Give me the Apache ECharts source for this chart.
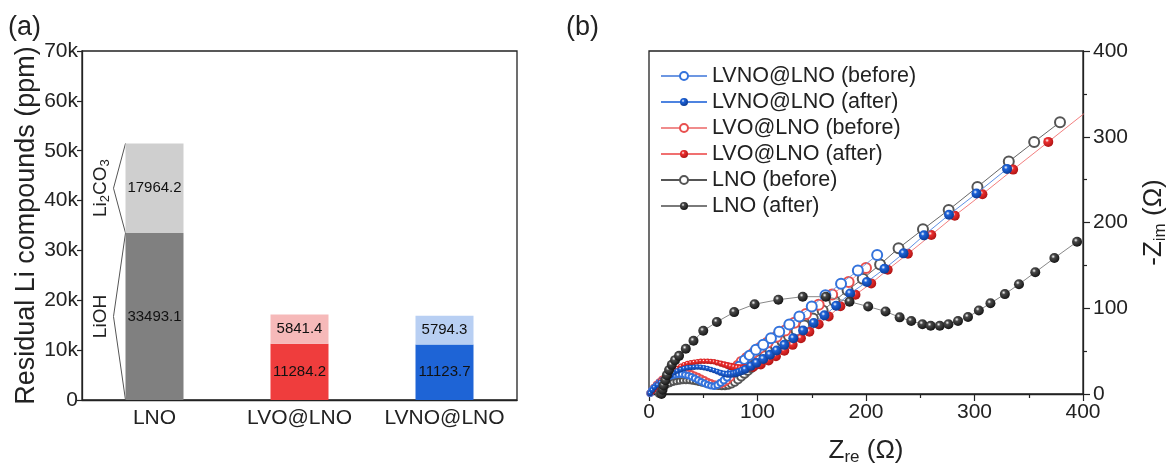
<!DOCTYPE html>
<html>
<head>
<meta charset="utf-8">
<script src="https://cdn.jsdelivr.net/npm/echarts@6/dist/echarts.min.js"></script>
<style>
  html, body { margin: 0; padding: 0; background: #fff; }
  #main { width: 1171px; height: 471px; }
</style>
</head>
<body>
<div id="main"></div>
<script>
// ---- (a) residual Li compounds ----
const samples = ['LNO', 'LVO@LNO', 'LVNO@LNO'];
const liohValues = [33493.1, 11284.2, 11123.7];
const li2co3Values = [17964.2, 5841.4, 5794.3];
const residualTickLabels = ['0', '10k', '20k', '30k', '40k', '50k', '60k', '70k'];

// ---- (b) Nyquist plots [Zre, -Zim] ----
const lvnoBefore = [[1,1],[2.5,4],[4.5,7],[7,10],[9.5,13],[12,15.5],[15,18],[18,20],[21,21.5],[24,22.5],[27,23],[30,23],[33,22.5],[36,21.5],[39,20],[42,18.3],[45,16.3],[48,14.3],[51,12.4],[54,10.8],[57,9.5],[60,9],[63,10.5],[66,13],[69,16],[72,19.5],[75.5,25],[79,29],[83,33],[87.8,40],[92.4,45],[98.5,51.6],[105.3,57.3],[112.4,65],[120,72.6],[129.3,81],[138.6,90.5],[150,102],[162.6,115.3],[177,128.7],[192.5,144],[210.3,162]];
const lvnoAfter = [[1,1],[3,4.5],[5,7.6],[8,10.5],[10.8,13.4],[14,16.3],[17,19],[20,22],[23,24.8],[26,26.8],[29.3,28.6],[32.4,29.7],[35.4,30.5],[38.5,31],[41.6,31.3],[44.7,31.4],[47.7,31.3],[50.8,30.6],[53.9,29.8],[57,28.7],[60,27.5],[63,26.1],[66,24.8],[69.2,23.7],[72.3,22.9],[75,23],[77.9,23.6],[80.5,24.5],[83,25.6],[85.8,27],[88.7,28.7],[93.9,32.5],[99.1,36.3],[105.3,40.8],[111.5,45.8],[117.6,50.8],[124.7,57.3],[133,65],[142,74],[151.8,82.9],[161.7,91.7],[172.5,103],[185.4,117.3],[200.8,130.7],[217,146],[234.6,164],[253.4,185],[276.5,209],[301.8,233.8],[330,262.5]];
const lvoBefore = [[1,1],[2.5,4],[4.5,7.5],[7,11],[9.5,14],[12,17],[15,19.5],[18,21.5],[21,23],[24,24.2],[27,25],[30,25.3],[33,25.2],[36,24.6],[39,23.5],[42,22],[45,20.3],[48,18.4],[51,16.5],[54,14.6],[57,13],[60,11.8],[63,11.2],[66,11.5],[69,13],[72,15.5],[75,19.5],[77.5,25],[79.4,30],[81.5,34],[84.7,38.2],[89.9,42.8],[96,47.8],[102.2,53.5],[109.3,60],[117.6,66.8],[125.6,74.1],[134,83],[144.7,93.2],[156.4,104],[168.8,116],[184,130.7],[200,147]];
const lvoAfter = [[1,1],[3,2.5],[4.5,5],[6.2,7.6],[8.5,11.5],[10.8,15.3],[13.8,18.2],[17,21],[20,24],[23,26.7],[26,29.7],[29.3,32.5],[32.4,34.2],[35.4,35.5],[38.5,36.4],[41.6,37],[44.7,37.6],[47.7,38.2],[50.8,38.2],[54,38.2],[57,37.9],[60,37.5],[63,36.5],[66.2,35.5],[69.3,34.3],[72.3,33.2],[75.4,32.2],[78.5,31.3],[81.5,30.5],[84.5,30],[87,29.6],[89.3,29.5],[96,31.3],[103,34.4],[110.2,39],[117,44],[124.7,50.4],[132.4,57.3],[140,65],[147.8,72.6],[156.4,81.4],[165.6,90.5],[176.4,102.4],[190.3,115.8],[204.8,129],[220,145],[238.6,163.5],[260.2,185.5],[281.8,208],[307.3,233],[335.6,261.7],[368,294],[402,328]];
const lnoBefore = [[9,0],[10,3],[11.5,6],[13.5,8.5],[16,10.5],[19,12.3],[22,13.6],[25,14.6],[28,15.3],[31,15.7],[34,15.8],[37,15.6],[40,15.2],[43,14.5],[46,13.7],[49,12.8],[52,11.9],[55,11],[58,10.2],[61,9.6],[64,9.2],[67,9.1],[70,9.4],[73,10.2],[76,11.8],[79,14],[82,17],[85,20.5],[88,24],[91,27.5],[94,31],[98,35],[102,39.5],[107,44.5],[112,50],[117,55.5],[123,61.5],[129,67.5],[136,74],[143,80],[151,88],[160,97.4],[171,108.5],[183,121],[197,134.4],[213,151],[230,170],[252.5,192],[276.2,214.7],[302.7,241.5],[331.6,271],[355,294],[378.8,317]];
const lnoAfter = [[11.5,0],[12.5,5],[13.5,10],[15,16],[16.5,22],[18.5,28],[21,34],[24,39.5],[27.7,44.5],[33.9,52.7],[41,62],[50,73.7],[62.5,84],[78.5,95.5],[97.3,104.7],[119.2,110],[141.7,113.5],[163,113.5],[184.8,107.7],[202,102],[218,96.3],[231,89.4],[241.7,85.2],[252,81.4],[259.6,79.5],[268,79.5],[276,81.4],[284.8,85.2],[294,89.8],[304,97.4],[314.7,105.8],[328,116.5],[341,128],[356,142],[373.6,158.5],[394.5,177.6]];

const FONT = '"Liberation Sans", Arial, sans-serif';
const INK = '#222';

const liohColors = ['#808080', '#ef3d3d', '#1e64d6'];
const li2co3Colors = ['#cfcfcf', '#f6b9b9', '#b8cff3'];

function sphere(base, dark) {
  return {
    type: 'radial', x: 0.38, y: 0.35, r: 0.65,
    colorStops: [
      { offset: 0, color: '#ffffff' },
      { offset: 0.3, color: base },
      { offset: 1, color: dark }
    ]
  };
}
function openSize(v) {
  return v[0] < 60 ? 5.5 : Math.min(10, 5.5 + (v[0] - 60) / 9);
}
function filledSize(v) {
  return v[0] < 60 ? 5.5 : Math.min(10, 5.5 + (v[0] - 60) / 9);
}

function nyquist(name, data, opts) {
  return {
    name: name,
    type: 'line',
    xAxisIndex: 1,
    yAxisIndex: 1,
    data: data,
    symbol: opts.symbol,
    symbolSize: opts.size,
    lineStyle: { color: opts.line, width: 0.9 },
    itemStyle: { color: opts.fill },
    clip: true,
    z: opts.z || 2
  };
}

const chart = echarts.init(document.getElementById('main'), null, { renderer: 'canvas' });

const option = {
  animation: false,
  textStyle: { fontFamily: FONT, color: INK },
  grid: [
    { left: 82, top: 51, width: 435, height: 349, show: true, borderColor: INK, borderWidth: 1.3, backgroundColor: 'transparent' },
    { left: 649, top: 51, width: 434, height: 350, show: true, borderColor: INK, borderWidth: 1.3, backgroundColor: 'transparent' }
  ],
  xAxis: [
    {
      gridIndex: 0, type: 'category', data: samples,
      axisLine: { lineStyle: { color: INK, width: 1.3 } },
      axisTick: { show: false },
      axisLabel: { fontSize: 21, color: INK, margin: 8, fontFamily: FONT, interval: 0 }
    },
    {
      gridIndex: 1, type: 'value', min: 0, max: 400, interval: 100,
      name: '{z|Z}{s|re}{z| (Ω)}', nameLocation: 'middle', nameGap: 42,
      nameTextStyle: {
        rich: {
          z: { fontSize: 26, fontFamily: FONT, color: INK, lineHeight: 30 },
          s: { fontSize: 17, fontFamily: FONT, color: INK, verticalAlign: 'bottom', lineHeight: 12 }
        }
      },
      splitLine: { show: false },
      axisLine: { onZero: false, lineStyle: { color: INK, width: 1.3 } },
      axisTick: { inside: false, length: 7, lineStyle: { color: INK, width: 1.2 } },
      minorTick: { show: true, splitNumber: 2, length: 4, lineStyle: { color: INK, width: 1.2 } },
      axisLabel: { fontSize: 21, color: INK, margin: 8, fontFamily: FONT }
    }
  ],
  yAxis: [
    {
      gridIndex: 0, type: 'value', min: 0, max: 70000, interval: 10000,
      name: 'Residual Li compounds (ppm)', nameLocation: 'middle', nameGap: 38,
      nameTextStyle: { fontSize: 27, color: INK, fontFamily: FONT },
      splitLine: { show: false },
      axisLine: { show: true, lineStyle: { color: INK, width: 1.3 } },
      axisTick: { show: true, inside: false, length: 5, lineStyle: { color: INK, width: 1.2 } },
      axisLabel: {
        fontSize: 21, color: INK, margin: 4, fontFamily: FONT,
        formatter: function (v) { return residualTickLabels[Math.round(v / 10000)]; }
      }
    },
    {
      gridIndex: 1, type: 'value', position: 'right', min: 0, max: 400, interval: 100,
      name: '{z|-Z}{s|im}{z| (Ω)}', nameLocation: 'middle', nameGap: 56, nameRotate: 90,
      nameTextStyle: {
        rich: {
          z: { fontSize: 26, fontFamily: FONT, color: INK, lineHeight: 30 },
          s: { fontSize: 17, fontFamily: FONT, color: INK, verticalAlign: 'bottom', lineHeight: 12 }
        }
      },
      splitLine: { show: false },
      axisLine: { show: true, onZero: false, lineStyle: { color: INK, width: 1.3 } },
      axisTick: { show: true, inside: false, length: 7, lineStyle: { color: INK, width: 1.2 } },
      minorTick: { show: true, splitNumber: 2, length: 4, lineStyle: { color: INK, width: 1.2 } },
      axisLabel: { fontSize: 21, color: INK, margin: 10, fontFamily: FONT }
    }
  ],
  legend: {
    data: ['LVNO@LNO (before)', 'LVNO@LNO (after)', 'LVO@LNO (before)', 'LVO@LNO (after)', 'LNO (before)', 'LNO (after)'],
    orient: 'vertical', left: 655, top: 60,
    itemWidth: 46, itemHeight: 10, itemGap: 4,
    textStyle: { fontSize: 21.5, color: INK, fontFamily: FONT, lineHeight: 22 }
  },
  series: [
    {
      name: 'LiOH', type: 'bar', stack: 'li', xAxisIndex: 0, yAxisIndex: 0,
      barWidth: '40%',
      data: liohValues.map((v, i) => ({ value: v, itemStyle: { color: liohColors[i] } })),
      label: { show: true, position: 'inside', fontSize: 15, color: '#111', fontFamily: FONT }
    },
    {
      name: 'Li2CO3', type: 'bar', stack: 'li', xAxisIndex: 0, yAxisIndex: 0,
      barWidth: '40%',
      data: li2co3Values.map((v, i) => ({ value: v, itemStyle: { color: li2co3Colors[i] } })),
      label: { show: true, position: 'inside', fontSize: 15, color: '#111', fontFamily: FONT }
    },
    nyquist('LNO (before)', lnoBefore, { symbol: 'emptyCircle', size: openSize, line: '#555', fill: '#555', z: 2 }),
    nyquist('LVO@LNO (before)', lvoBefore, { symbol: 'emptyCircle', size: openSize, line: '#f08c8c', fill: '#e8504f', z: 3 }),
    nyquist('LVNO@LNO (before)', lvnoBefore, { symbol: 'emptyCircle', size: openSize, line: '#6d97e2', fill: '#3473dc', z: 4 }),
    nyquist('LVO@LNO (after)', lvoAfter, { symbol: 'circle', size: filledSize, line: '#f07070', fill: sphere('#ec2e2e', '#b01515'), z: 5 }),
    nyquist('LVNO@LNO (after)', lvnoAfter, { symbol: 'circle', size: filledSize, line: '#4d83e0', fill: sphere('#1d62d8', '#0d3c94'), z: 6 }),
    nyquist('LNO (after)', lnoAfter, { symbol: 'circle', size: 10, line: '#7a7a7a', fill: sphere('#484848', '#161616'), z: 7 })
  ]
};

chart.setOption(option);

// brackets next to the LNO bar, placed through the chart's own scales
const p0 = chart.convertToPixel({ xAxisIndex: 0, yAxisIndex: 0 }, [0, 0]);
const p1 = chart.convertToPixel({ xAxisIndex: 0, yAxisIndex: 0 }, [1, 0]);
const band = p1[0] - p0[0];
const barLeft = p0[0] - band * 0.2;
const yAt = v => chart.convertToPixel({ xAxisIndex: 0, yAxisIndex: 0 }, [0, v])[1];
const top1 = liohValues[0];
const top2 = liohValues[0] + li2co3Values[0];
const apex = barLeft - 12;
const textX = barLeft - 25;

chart.setOption({
  graphic: [
    { type: 'text', left: 8, top: 14, style: { text: '(a)', font: '27px ' + FONT, fill: INK } },
    { type: 'text', left: 566, top: 14, style: { text: '(b)', font: '27px ' + FONT, fill: INK } },
    {
      type: 'polyline',
      shape: { points: [[barLeft, yAt(0)], [apex, yAt(top1 / 2)], [barLeft, yAt(top1)]] },
      style: { stroke: '#555', lineWidth: 1, fill: null }
    },
    {
      type: 'polyline',
      shape: { points: [[barLeft, yAt(top1)], [apex, yAt((top1 + top2) / 2)], [barLeft, yAt(top2)]] },
      style: { stroke: '#555', lineWidth: 1, fill: null }
    },
    {
      type: 'text', x: textX, y: yAt(top1 / 2), rotation: Math.PI / 2,
      style: { text: 'LiOH', font: '19px ' + FONT, fill: INK, align: 'center', verticalAlign: 'middle' }
    },
    {
      type: 'text', x: textX, y: yAt((top1 + top2) / 2), rotation: Math.PI / 2,
      style: {
        text: '{a|Li}{s|2}{a|CO}{s|3}', align: 'center', verticalAlign: 'middle',
        rich: {
          a: { fontSize: 19, fontFamily: FONT, fill: INK, lineHeight: 22 },
          s: { fontSize: 13, fontFamily: FONT, fill: INK, verticalAlign: 'bottom', lineHeight: 12 }
        }
      }
    }
  ]
});
</script>
</body>
</html>
